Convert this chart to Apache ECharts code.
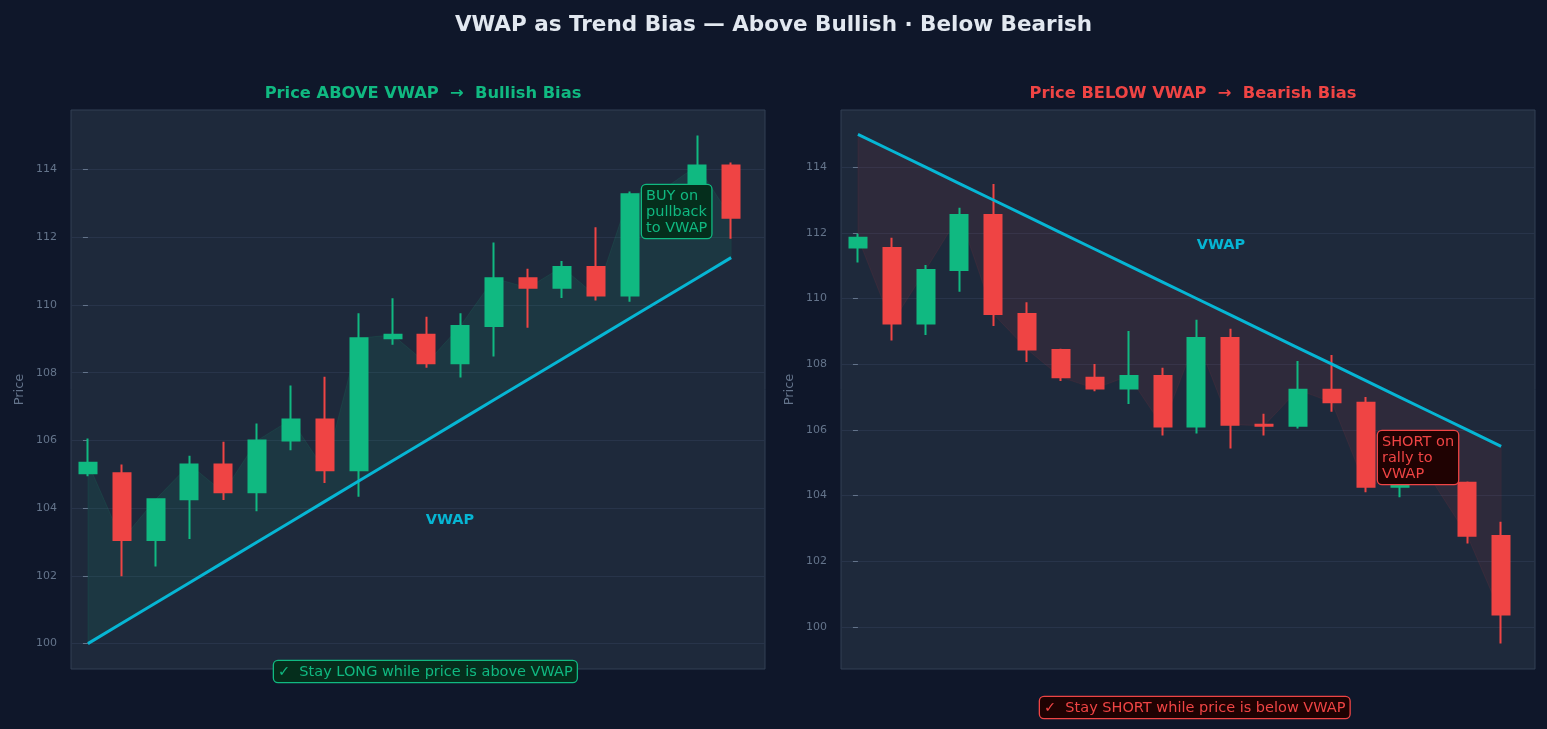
<!DOCTYPE html>
<html>
<head>
<meta charset="utf-8">
<script src="https://cdn.jsdelivr.net/npm/echarts@6/dist/echarts.min.js"></script>
<style>
  html, body { margin: 0; padding: 0; background: #0f172a; }
  #chart { width: 1547px; height: 729px; }
</style>
</head>
<body>
<div id="chart"></div>
<script>
// bullish panel (price above VWAP)
var bullOpen  = [105.03, 105.03, 103.06, 104.26, 105.29, 104.47, 106.00, 106.62, 105.12, 109.02,
                 109.12, 108.28, 109.38, 110.79, 110.51, 111.12, 110.28, 113.27, 113.42, 114.12];
var bullClose = [105.34, 103.06, 104.26, 105.29, 104.47, 106.00, 106.62, 105.12, 109.02, 109.12,
                 108.28, 109.38, 110.79, 110.51, 111.12, 110.28, 113.27, 113.42, 114.12, 112.58];
var bullLow   = [104.94, 101.99, 102.28, 103.09, 104.24, 103.91, 105.71, 104.74, 104.34, 108.83,
                 108.15, 107.86, 108.48, 109.33, 110.21, 110.13, 110.10, 112.90, 113.30, 111.96];
var bullHigh  = [106.06, 105.29, 104.29, 105.55, 105.96, 106.50, 107.62, 107.88, 109.76, 110.20,
                 109.65, 109.76, 111.85, 111.07, 111.30, 112.30, 113.35, 113.46, 115.01, 114.21];
var bullVwap  = [100.0, 100.6, 101.2, 101.8, 102.4, 103.0, 103.6, 104.2, 104.8, 105.4,
                 106.0, 106.6, 107.2, 107.8, 108.4, 109.0, 109.6, 110.2, 110.8, 111.4];

// bearish panel (price below VWAP)
var bearOpen  = [111.55, 111.54, 109.24, 110.87, 112.54, 109.53, 108.43, 107.59, 107.26, 107.64,
                 106.10, 108.80, 106.16, 106.13, 107.22, 106.83, 104.27, 104.60, 104.39, 102.77];
var bearClose = [111.85, 109.24, 110.87, 112.54, 109.53, 108.45, 107.60, 107.26, 107.64, 106.10,
                 108.80, 106.16, 106.13, 107.22, 106.84, 104.27, 104.60, 104.39, 102.78, 100.38];
var bearLow   = [111.10, 108.72, 108.89, 110.21, 109.16, 108.07, 107.49, 107.18, 106.79, 105.83,
                 105.89, 105.43, 105.83, 106.04, 106.55, 104.10, 103.95, 104.32, 102.54, 99.50];
var bearHigh  = [111.97, 111.85, 111.02, 112.76, 113.49, 109.89, 108.47, 108.01, 109.01, 107.89,
                 109.35, 109.08, 106.49, 108.10, 108.28, 107.00, 105.20, 104.90, 104.43, 103.20];
var bearVwap  = [115.0, 114.5, 114.0, 113.5, 113.0, 112.5, 112.0, 111.5, 111.0, 110.5,
                 110.0, 109.5, 109.0, 108.5, 108.0, 107.5, 107.0, 106.5, 106.0, 105.5];

var priceTicks = [100, 102, 104, 106, 108, 110, 112, 114];

var GREEN = "#10b981";
var RED = "#ef4444";
var CYAN = "#06b6d4";
var FONT = "DejaVu Sans";

function candles(o, c, l, h) {
  return o.map(function (v, i) {
    return [i, v, c[i], l[i], h[i]];
  });
}

function pts(arr) {
  return arr.map(function (v, i) { return [i, v]; });
}

function grid(left) {
  return {
    left: left, top: 110, width: 694, height: 559,
    show: true, backgroundColor: "#1e293b", borderColor: "#334155", borderWidth: 1
  };
}

function xAxis(idx) {
  return {
    type: "value", gridIndex: idx, min: -0.5, max: 20,
    axisLine: { show: false }, axisTick: { show: false },
    axisLabel: { show: false }, splitLine: { show: false }
  };
}

function yAxis(idx, min, max) {
  return {
    type: "value", gridIndex: idx, min: min, max: max,
    name: "Price", nameLocation: "middle", nameGap: 45,
    nameTextStyle: { color: "#64748b", fontSize: 13, fontFamily: FONT },
    axisLine: { show: false },
    axisTick: { show: true, length: 5, lineStyle: { color: "#64748b" }, customValues: priceTicks },
    axisLabel: { color: "#64748b", fontSize: 11, fontFamily: FONT, margin: 14, customValues: priceTicks },
    splitLine: { show: true, lineStyle: { color: "#28344a", width: 1 } }
  };
}

// shaded band between the close path and the VWAP path
function bandSeries(idx, upper, lower, color, alpha) {
  return {
    type: "custom", xAxisIndex: idx, yAxisIndex: idx, z: 1, silent: true,
    data: pts(upper),
    renderItem: function (params, api) {
      if (params.dataIndex !== 0) return null;
      var points = [];
      var i;
      for (i = 0; i < upper.length; i++) points.push(api.coord([i, upper[i]]));
      for (i = lower.length - 1; i >= 0; i--) points.push(api.coord([i, lower[i]]));
      return {
        type: "polygon",
        shape: { points: points },
        style: { fill: color, opacity: alpha, stroke: color, lineWidth: 1 }
      };
    }
  };
}

function candleSeries(idx, data) {
  return {
    type: "candlestick", xAxisIndex: idx, yAxisIndex: idx,
    dimensions: ["x", "open", "close", "lowest", "highest"],
    encode: { x: 0, y: [1, 2, 3, 4] },
    barWidth: 17.5,
    itemStyle: { color: GREEN, color0: RED, borderColor: GREEN, borderColor0: RED, borderWidth: 2 },
    data: data, z: 3
  };
}

function noteBox(text, x, y, color, bg) {
  return {
    type: "text", x: x, y: y, z: 50,
    style: {
      text: text, fill: color, font: "14.5px '" + FONT + "'",
      backgroundColor: bg, borderColor: color, borderWidth: 1.3, borderRadius: 4,
      padding: [3, 4, 2, 4], lineHeight: 16
    }
  };
}

var chart = echarts.init(document.getElementById("chart"));
chart.setOption({
  backgroundColor: "#0f172a",
  animation: false,
  title: [
    { text: "VWAP as Trend Bias — Above Bullish · Below Bearish", left: "center", top: 9,
      textStyle: { color: "#e2e8f0", fontSize: 21.5, fontWeight: "bold", fontFamily: FONT } },
    { text: "Price ABOVE VWAP  →  Bullish Bias", left: 418, top: 81, textAlign: "center",
      textStyle: { color: GREEN, fontSize: 16.3, fontWeight: "bold", fontFamily: FONT } },
    { text: "Price BELOW VWAP  →  Bearish Bias", left: 1188, top: 81, textAlign: "center",
      textStyle: { color: RED, fontSize: 16.3, fontWeight: "bold", fontFamily: FONT } }
  ],
  grid: [grid(71), grid(841)],
  xAxis: [xAxis(0), xAxis(1)],
  yAxis: [yAxis(0, 99.25, 115.76), yAxis(1, 98.72, 115.74)],
  series: [
    bandSeries(0, bullClose, bullVwap, GREEN, 0.1),
    candleSeries(0, candles(bullOpen, bullClose, bullLow, bullHigh)),
    { type: "line", xAxisIndex: 0, yAxisIndex: 0, data: pts(bullVwap), symbol: "none",
      lineStyle: { color: CYAN, width: 3 }, z: 5 },

    bandSeries(1, bearVwap, bearClose, RED, 0.08),
    candleSeries(1, candles(bearOpen, bearClose, bearLow, bearHigh)),
    { type: "line", xAxisIndex: 1, yAxisIndex: 1, data: pts(bearVwap), symbol: "none",
      lineStyle: { color: CYAN, width: 3 }, z: 5 }
  ],
  graphic: [
    { type: "text", x: 450, y: 520, z: 50,
      style: { text: "VWAP", fill: CYAN, font: "bold 14.5px '" + FONT + "'", align: "center", verticalAlign: "middle" } },
    { type: "text", x: 1221, y: 245, z: 50,
      style: { text: "VWAP", fill: CYAN, font: "bold 14.5px '" + FONT + "'", align: "center", verticalAlign: "middle" } },
    noteBox("BUY on\npullback\nto VWAP", 642, 185, GREEN, "#052e1c"),
    noteBox("SHORT on\nrally to\nVWAP", 1378, 431, RED, "#1f0202"),
    noteBox("✓  Stay LONG while price is above VWAP", 274, 661, GREEN, "#052e1c"),
    noteBox("✓  Stay SHORT while price is below VWAP", 1040, 697, RED, "#1f0202")
  ]
});
</script>
</body>
</html>
